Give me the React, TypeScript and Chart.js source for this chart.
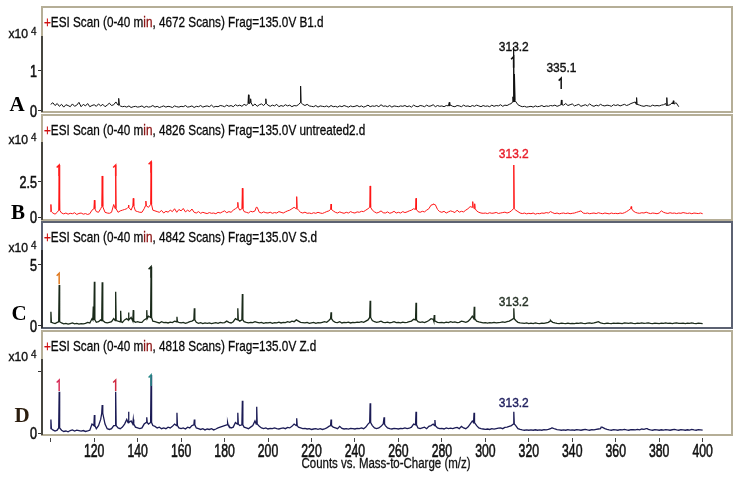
import React, { useEffect, useRef } from 'react';
import { Chart, registerables } from 'chart.js';
Chart.register(...registerables);

const SANS = "'Liberation Sans', Arial, sans-serif";
const SERIF = "'Liberation Serif', 'DejaVu Serif', serif";

const X_MIN = 96;
const X_MAX = 413.5;
const X_TICKS = [100, 120, 140, 160, 180, 200, 220, 240, 260, 280, 300, 320, 340, 360, 380, 400];
const X_TICK_LABELS = ['', '120', '140', '160', '180', '200', '220', '240', '260', '280', '300', '320', '340', '360', '380', '400'];
const X_TITLE = 'Counts vs. Mass-to-Charge (m/z)';

// ---- Panel A (B1.d) : intensities x10^4 at integer m/z from 100
const A_START = 100;
const A_BASE = [
  .16, .2, .13, .18, .11, .16, .09, .15, .13, .1, .17, .11, .14, .21, .1, .16, .12, .18, .1, .13,
  .15, .11, .17, .12, .16, .1, .14, .19, .13, .15, .22, .14, .12, .1, .11, .09, .12, .08, .1, .11,
  .09, .1, .12, .08, .11, .09, .1, .13, .09, .11, .08, .1, .12, .09, .11, .1, .08, .12, .1, .09,
  .11, .1, .13, .09, .1, .12, .08, .11, .1, .13, .09, .11, .12, .1, .14, .09, .11, .1, .13, .12,
  .1, .14, .11, .13, .1, .15, .12, .14, .11, .16, .13, .18, .2, .12, .17, .11, .15, .17, .13, .18,
  .14, .11, .14, .12, .16, .1, .13, .11, .15, .12, .14, .1, .13, .12, .15, .2, .16, .13, .16, .12,
  .11, .1, .13, .09, .12, .11, .1, .12, .09, .13, .1, .11, .09, .12, .1, .13, .11, .09, .12, .1,
  .11, .13, .1, .12, .09, .11, .14, .1, .12, .11, .13, .1, .15, .11, .12, .1, .13, .09, .12, .11,
  .1, .12, .11, .13, .1, .12, .09, .14, .11, .1, .13, .12, .1, .14, .11, .12, .15, .1, .13, .11,
  .12, .1, .13, .12, .14, .11, .1, .13, .12, .1, .14, .11, .12, .1, .13, .11, .14, .12, .1, .13,
  .11, .12, .1, .14, .11, .13, .12, .15, .11, .14, .13, .16, .18, .22, .25, .15, .12, .1, .11, .09,
  .1, .11, .09, .12, .1, .11, .13, .1, .12, .11, .13, .12, .14, .11, .13, .15, .14, .18, .13, .15,
  .17, .12, .14, .16, .11, .13, .15, .12, .17, .13, .11, .14, .12, .16, .13, .12, .14, .13, .11, .15,
  .13, .15, .12, .14, .16, .13, .15, .18, .2, .22, .16, .14, .12, .11, .13, .12, .11, .14, .12, .13,
  .12, .14, .15, .18, .13, .15, .2, .17, .19, .1,
];
const A_PEAKS = [
  [131.4, 0.31], [191, 0.4], [192, 0.3], [199, 0.3], [215, 0.62], [283.4, 0.21],
  [312.7, 0.35], [313.1, 1.6], [313.5, 0.92], [335, 0.27], [369.6, 0.33], [383.5, 0.33], [386.5, 0.25], [387.7, 0.2],
];

// ---- Panel B (untreated2.d)
const B_START = 100;
const B_BASE = [
  .4, .3, .22, .35, .5, .3, .24, .3, .22, .28, .25, .32, .2, .27, .3, .22, .26, .2, .25, .5,
  .6, .4, .35, .6, .75, .35, .3, .28, .35, .9, .6, .35, .45, .5, .55, .6, .7, .5, .8, .45,
  .4, .35, .35, .6, .8, .7, .9, .5, .45, .4, .35, .48, .3, .42, .36, .5, .4, .6, .35, .55,
  .45, .62, .38, .5, .4, .58, .35, .3, .4, .28, .35, .3, .26, .33, .28, .3, .25, .35, .3, .38,
  .45, .32, .4, .35, .5, .6, .7, .5, .6, .4, .35, .3, .42, .38, .45, .7, .35, .3, .38, .32,
  .3, .36, .28, .33, .3, .4, .35, .3, .38, .45, .5, .6, .7, .6, .5, .35, .3, .36, .28, .3,
  .26, .32, .28, .35, .3, .27, .33, .4, .45, .55, .45, .35, .3, .38, .32, .28, .35, .3, .4, .33,
  .3, .38, .35, .42, .4, .5, .6, .7, .5, .38, .3, .35, .45, .32, .3, .38, .28, .33, .42, .3,
  .35, .3, .4, .33, .38, .45, .5, .6, .55, .4, .35, .42, .38, .5, .6, .85, .9, .88, .55, .4,
  .35, .42, .3, .38, .45, .4, .33, .5, .36, .42, .38, .5, .6, .75, .7, .6, .45, .35, .3, .28,
  .3, .26, .32, .28, .3, .34, .27, .3, .33, .36, .3, .35, .45, .6, .5, .4, .3, .26, .3, .24,
  .28, .25, .3, .22, .27, .25, .3, .28, .33, .3, .4, .32, .26, .3, .24, .28, .3, .26, .3, .25,
  .28, .3, .35, .4, .45, .3, .27, .3, .25, .28, .3, .26, .32, .28, .25, .3, .27, .24, .3, .26,
  .28, .25, .3, .27, .32, .4, .5, .6, .45, .35, .3, .28, .32, .3, .36, .3, .26, .3, .28, .25,
  .3, .45, .35, .3, .27, .32, .28, .3, .26, .3, .28, .33, .3, .27, .3, .25, .3, .28, .26, .3,
  .25,
];
const B_PEAKS = [
  [100.1, 0.9], [103.9, 3.67], [120.1, 1.2], [123.7, 2.9], [129.9, 3.67], [135.8, 0.86], [138, 1.33],
  [143.8, 1.14], [146.2, 3.9], [186.1, 1.05], [188.2, 2.04], [194.8, 0.7], [213.2, 1.45], [229, 0.93],
  [247, 2.2], [268.1, 1.33], [276.2, 0.95], [294.2, 1.1], [295.1, 0.95], [313.1, 3.67], [367.1, 0.75],
];

// ---- Panel C (S.d)
const C_START = 100;
const C_BASE = [
  .3, .25, .2, .3, .35, .25, .18, .22, .15, .2, .25, .18, .22, .15, .2, .17, .22, .3, .25, .6,
  .5, .3, .35, .5, .45, .3, .25, .3, .35, .6, .45, .4, .35, .3, .5, .6, .5, .7, .4, .3,
  .35, .3, .3, .5, .6, .8, .7, .4, .35, .3, .25, .35, .28, .3, .25, .32, .28, .4, .35, .3,
  .25, .3, .22, .28, .35, .4, .5, .3, .22, .27, .2, .25, .22, .26, .2, .24, .28, .22, .3, .25,
  .28, .4, .3, .25, .35, .6, .5, .4, .5, .35, .3, .26, .3, .28, .35, .3, .25, .3, .22, .27,
  .25, .3, .22, .28, .26, .32, .25, .3, .28, .35, .3, .4, .35, .5, .4, .3, .28, .25, .3, .22,
  .26, .3, .22, .28, .25, .3, .35, .3, .45, .6, .4, .3, .28, .35, .25, .3, .27, .32, .25, .3,
  .28, .32, .3, .35, .3, .4, .5, .7, .45, .35, .3, .33, .4, .3, .28, .32, .26, .3, .35, .28,
  .3, .26, .32, .28, .3, .35, .4, .55, .5, .35, .3, .33, .28, .35, .45, .6, .55, .4, .3, .28,
  .3, .26, .32, .28, .35, .3, .33, .28, .3, .4, .35, .3, .38, .55, .8, .6, .4, .33, .3, .26,
  .28, .24, .27, .25, .3, .26, .28, .3, .33, .3, .35, .4, .5, .6, .45, .3, .26, .24, .22, .25,
  .2, .23, .2, .25, .22, .2, .24, .22, .26, .3, .4, .3, .25, .22, .2, .24, .21, .2, .23, .2,
  .22, .2, .24, .21, .25, .22, .2, .23, .26, .22, .25, .3, .35, .26, .22, .2, .24, .21, .2, .23,
  .21, .24, .22, .2, .25, .23, .21, .26, .22, .2, .24, .22, .25, .21, .23, .26, .22, .2, .24, .22,
  .2, .23, .21, .25, .22, .24, .2, .23, .26, .22, .21, .24, .2, .23, .22, .25, .21, .2, .23, .22,
  .2,
];
const C_PEAKS = [
  [100.1, 1.17], [103.9, 3.36], [119.6, 1.6], [120.1, 3.63], [123.7, 3.58], [129.9, 2.8], [132.2, 1.25],
  [135.8, 1.1], [138, 1.3], [144.2, 1.3], [146.2, 4.86], [158.1, 0.76], [166.1, 1.45], [186.1, 1.45],
  [188.2, 2.62], [229, 1.12], [247, 2.07], [268.1, 1.91], [276.5, 0.9], [294.9, 1.58], [313.1, 1.45], [330, 0.45],
];

// ---- Panel D (Z.d)
const D_START = 100;
const D_BASE = [
  .3, .22, .15, .2, .35, .2, .12, .15, .1, .18, .22, .15, .2, .17, .14, .18, .12, .15, .2, .6,
  .5, .3, .5, .9, 1.3, .6, .3, .25, .3, .5, .5, .35, .3, .4, .6, .9, .7, .8, .6, .4,
  .35, .3, .35, .6, .7, .6, .7, .5, .45, .35, .4, .3, .35, .3, .4, .35, .45, .6, .5, .35,
  .3, .35, .28, .4, .35, .5, .55, .35, .3, .25, .3, .22, .28, .25, .3, .22, .28, .35, .4, .45,
  .5, .55, .45, .35, .4, .7, .6, .5, .55, .4, .35, .3, .4, .5, .8, .6, .45, .35, .3, .35,
  .28, .32, .3, .35, .3, .28, .32, .35, .3, .38, .35, .45, .6, .5, .4, .35, .3, .32, .28, .3,
  .25, .28, .3, .26, .3, .25, .28, .35, .45, .5, .4, .35, .3, .45, .32, .28, .3, .27, .32, .3,
  .28, .32, .3, .35, .3, .4, .6, .7, .5, .35, .3, .35, .45, .6, .5, .35, .3, .28, .32, .3,
  .28, .32, .3, .35, .3, .33, .4, .6, .55, .35, .3, .35, .4, .3, .45, .5, .6, .5, .35, .3,
  .32, .28, .35, .3, .33, .3, .35, .38, .3, .45, .35, .3, .4, .6, .8, .7, .5, .35, .3, .28,
  .25, .28, .25, .3, .27, .3, .33, .35, .3, .38, .4, .45, .5, .6, .5, .3, .25, .22, .2, .22,
  .2, .22, .2, .23, .2, .22, .2, .24, .22, .25, .3, .35, .28, .24, .22, .2, .22, .2, .24, .21,
  .22, .2, .24, .22, .2, .23, .25, .22, .2, .24, .22, .25, .28, .3, .4, .3, .25, .22, .2, .24,
  .22, .2, .24, .22, .25, .22, .2, .24, .23, .22, .25, .22, .28, .26, .3, .25, .22, .2, .24, .22,
  .2, .23, .21, .24, .22, .2, .23, .25, .22, .2, .24, .22, .2, .23, .21, .25, .22, .2, .24, .22,
  .2,
];
const D_PEAKS = [
  [100.1, 0.9], [103.9, 2.7], [120.1, 1.19], [123.7, 1.84], [129.9, 2.7], [135.8, 1.4], [138, 0.9],
  [144.2, 1.04], [146.2, 3.79], [158.1, 1.34], [166.1, 0.9], [181.4, 0.7], [186.1, 1.34], [188.2, 2.12],
  [194.8, 1.73], [213.2, 0.97], [229, 0.9], [247, 1.95], [253.4, 1.04], [268.1, 1.4], [276.8, 0.86],
  [294.8, 1.34], [313.1, 1.4], [330.8, 0.35], [353.5, 0.4], [374.3, 0.3],
];

const TITLES = [
  '+ESI Scan (0-40 min, 4672 Scans) Frag=135.0V B1.d',
  '+ESI Scan (0-40 min, 4826 Scans) Frag=135.0V untreated2.d',
  '+ESI Scan (0-40 min, 4842 Scans) Frag=135.0V S.d',
  '+ESI Scan (0-40 min, 4818 Scans) Frag=135.0V Z.d',
];
const LETTERS = ['A', 'B', 'C', 'D'];
const Y_TICKS = [[0, 1], [0, 2.5], [0, 5], [0, 4]];
const Y_TICK_LABELS = [['0', '1'], ['0', '2.5'], ['0', '5'], ['0', '']];
const AXIS_TOPS = [1.88, 5.29, 6.23, 4.82];
const PEAK_LABELS: [number, string, number][][] = [
  [[313.1, '313.2', 1.51], [335.0, '335.1', 0.98]],
  [[313.1, '313.2', 4.16]],
  [[313.1, '313.2', 1.64]],
  [[313.1, '313.2', 1.71]],
];
const MARKERS: [number, number, string][][] = [
  [[313.0, 1.36, '#111111'], [334.9, 0.82, '#111111']],
  [[103.9, 3.67, '#ff2020'], [129.9, 3.67, '#ff2020'], [146.2, 3.9, '#ff2020']],
  [[103.9, 4.32, '#e07a20'], [146.2, 4.86, '#1a2a1a']],
  [[103.9, 3.46, '#d8305a'], [129.9, 3.46, '#d02a40'], [146.2, 3.79, '#2a8a8a']],
];

type PanelGeom = {
  boxTop: number; boxBottom: number; yMin: number; yMax: number; lw: number;
  color: string; labelColor: string; border: string; letterX: number; letterDy: number; letterColor: string;
};
const GEOM: PanelGeom[] = [
  { boxTop: 7, boxBottom: 112, yMin: -0.033, yMax: 2.61, lw: 1, color: '#111111', labelColor: '#111111', border: '#b5ae97', letterX: 17, letterDy: -7, letterColor: '#000' },
  { boxTop: 115, boxBottom: 220, yMin: -0.19, yMax: 7.18, lw: 1, color: '#ff1616', labelColor: '#e81c28', border: '#b5ae97', letterX: 18, letterDy: -5, letterColor: '#000' },
  { boxTop: 222, boxBottom: 328, yMin: -0.164, yMax: 8.52, lw: 1.3, color: '#1a2a1a', labelColor: '#263226', border: '#5c6272', letterX: 19, letterDy: -13, letterColor: '#000' },
  { boxTop: 331, boxBottom: 435, yMin: -0.11, yMax: 6.64, lw: 1.3, color: '#1b1b55', labelColor: '#222260', border: '#b5ae97', letterX: 22, letterDy: -18, letterColor: '#2b1d0e' },
];

const SERIES = [
  { start: A_START, base: A_BASE, peaks: A_PEAKS },
  { start: B_START, base: B_BASE, peaks: B_PEAKS },
  { start: C_START, base: C_BASE, peaks: C_PEAKS },
  { start: D_START, base: D_BASE, peaks: D_PEAKS },
];

function buildPoints(start: number, base: number[], peaks: number[][]) {
  const W = 0.22;
  const pts: { x: number; y: number }[] = [];
  base.forEach((v, i) => {
    const x = start + i;
    if (!peaks.some(([m]) => Math.abs(x - m) < W)) pts.push({ x, y: v });
  });
  for (const [m, h] of peaks) {
    const idx = Math.min(base.length - 1, Math.max(0, Math.round(m) - start));
    const b = base[idx];
    pts.push({ x: m - W, y: b }, { x: m, y: h }, { x: m + W, y: b });
  }
  pts.sort((a, b) => a.x - b.x);
  return pts;
}

// draws horizontally condensed text (emulates a narrow face)
function drawText(ctx: CanvasRenderingContext2D, s: string, x: number, y: number, size: number, sx: number,
  color: string, align: CanvasTextAlign = 'left', baseline: CanvasTextBaseline = 'alphabetic', family = SANS, weight = 'normal', heavy = 0) {
  ctx.save();
  ctx.font = `${weight} ${size}px ${family}`;
  ctx.textAlign = align;
  ctx.textBaseline = baseline;
  ctx.fillStyle = color;
  ctx.translate(x, y);
  ctx.scale(sx, 1);
  ctx.fillText(s, 0, 0);
  if (heavy > 0) {
    ctx.strokeStyle = color;
    ctx.lineWidth = heavy;
    ctx.strokeText(s, 0, 0);
  }
  const w = ctx.measureText(s).width * sx;
  ctx.restore();
  return w;
}

function decorPlugin(i: number) {
  const g = GEOM[i];
  return {
    id: 'decor' + i,
    beforeDatasetsDraw(chart: any) {
      const { ctx, chartArea: ca } = chart;
      ctx.save();
      ctx.strokeStyle = g.border;
      ctx.lineWidth = 2;
      ctx.strokeRect(ca.left, ca.top, ca.right - ca.left, ca.bottom - ca.top);
      ctx.restore();
    },
    afterDraw(chart: any) {
      const { ctx, chartArea: ca, scales } = chart;
      const xs = scales.x, ys = scales.y;
      ctx.save();
      ctx.strokeStyle = '#222';
      ctx.lineWidth = 1.5;
      ctx.beginPath();
      ctx.moveTo(ca.left, ys.getPixelForValue(AXIS_TOPS[i]));
      ctx.lineTo(ca.left, ca.bottom);
      ctx.stroke();
      ctx.restore();
      // title
      const t = TITLES[i];
      const ty = ca.top + 20;
      let tx = ca.left + 2;
      const k = t.indexOf('min');
      const segs: [string, string][] = [
        [t.slice(0, 1), '#d01010'],
        [t.slice(1, k + 1), '#0a0a0a'],
        ['in', '#8a1010'],
        [t.slice(k + 3), '#0a0a0a'],
      ];
      for (const [s, c] of segs) tx += drawText(ctx, s, tx, ty, 14.3, 0.82, c, 'left', 'alphabetic', SANS, 'normal', 0.3);
      // y tick labels
      Y_TICKS[i].forEach((v, j) => {
        const lab = Y_TICK_LABELS[i][j];
        if (lab) drawText(ctx, lab, 37, ys.getPixelForValue(v) + 6, 17, 0.74, '#111', 'right', 'alphabetic', SANS, 'normal', 0.6);
      });
      // x10 4
      const at = ys.getPixelForValue(AXIS_TOPS[i]);
      drawText(ctx, 'x10', 28, at + 2, 13.5, 0.9, '#111', 'right', 'alphabetic', SANS, 'normal', 0.4);
      drawText(ctx, '4', 31, at - 1, 10.5, 0.95, '#111', 'left', 'alphabetic', SANS, 'normal', 0.3);
      // panel letter
      drawText(ctx, LETTERS[i], g.letterX, ys.getPixelForValue(0) + g.letterDy + 7, 21, 1, g.letterColor, 'center', 'alphabetic', SERIF, 'bold');
      // markers
      ctx.save();
      for (const [m, v, c] of MARKERS[i]) {
        const px = xs.getPixelForValue(m);
        const py = ys.getPixelForValue(v);
        ctx.strokeStyle = c;
        ctx.lineWidth = 1.5;
        ctx.beginPath();
        ctx.moveTo(px - 2.5, py + 2.5);
        ctx.lineTo(px, py);
        ctx.lineTo(px, py + 11);
        ctx.stroke();
      }
      ctx.restore();
      // peak labels
      for (const [m, s, v] of PEAK_LABELS[i]) {
        drawText(ctx, s, xs.getPixelForValue(m), ys.getPixelForValue(v), 13, 0.92, g.labelColor, 'center', 'alphabetic', SANS, 'normal', 0.4);
      }
      // x axis labels and title
      if (i === 3) {
        X_TICKS.forEach((v, j) => {
          const lab = X_TICK_LABELS[j];
          if (lab) drawText(ctx, lab, xs.getPixelForValue(v), ca.bottom + 21.5, 18, 0.68, '#111', 'center', 'alphabetic', SANS, 'normal', 0.6);
        });
        drawText(ctx, X_TITLE, 386, ca.bottom + 33, 14, 0.82, '#111', 'center', 'alphabetic', SANS, 'normal', 0.3);
      }
    },
  };
}

function Panel({ i }: { i: number }) {
  const ref = useRef<HTMLCanvasElement | null>(null);
  const g = GEOM[i];
  const last = i === 3;
  const canvasTop = Math.max(0, g.boxTop - 12);
  const padTop = g.boxTop - canvasTop;
  const canvasBottom = last ? 477 : g.boxBottom + 12;
  const height = canvasBottom - canvasTop;
  const xAxisH = last ? canvasBottom - g.boxBottom : 0;
  useEffect(() => {
    const s = SERIES[i];
    const pts = buildPoints(s.start, s.base, s.peaks);
    const chart = new Chart(ref.current!, {
      type: 'line',
      data: {
        datasets: [{ data: pts, borderColor: g.color, borderWidth: g.lw, pointRadius: 0, tension: 0, fill: false }],
      },
      options: {
        responsive: false,
        animation: false,
        events: [],
        layout: { padding: { left: 0, right: 10, top: padTop, bottom: last ? 0 : 12 } },
        plugins: { legend: { display: false }, tooltip: { enabled: false } },
        scales: {
          x: {
            type: 'linear',
            min: X_MIN,
            max: X_MAX,
            display: last,
            afterBuildTicks: (sc: any) => { sc.ticks = X_TICKS.map((v) => ({ value: v })); },
            afterFit: (sc: any) => { sc.height = xAxisH; },
            grid: { drawOnChartArea: false, drawTicks: true, tickLength: 7, color: '#444', tickBorderDash: [0, 3, 4], lineWidth: 1 },
            border: { display: false },
            ticks: { display: false },
          },
          y: {
            type: 'linear',
            min: g.yMin,
            max: g.yMax,
            afterBuildTicks: (sc: any) => { sc.ticks = Y_TICKS[i].map((v) => ({ value: v })); },
            afterFit: (sc: any) => { sc.width = 42; },
            grid: { drawOnChartArea: false, drawTicks: true, tickLength: 4, color: '#333', lineWidth: 1 },
            border: { display: false },
            ticks: { display: false },
          },
        },
      } as any,
      plugins: [decorPlugin(i)],
    });
    return () => chart.destroy();
  }, []);
  return (
    <canvas
      ref={ref}
      width={742}
      height={height}
      style={{ position: 'absolute', left: 0, top: canvasTop, width: 742, height }}
    />
  );
}

export default function App() {
  return (
    <div style={{ position: 'absolute', left: 0, top: 0, width: 742, height: 477, background: '#ffffff', overflow: 'hidden' }}>
      {[0, 1, 2, 3].map((i) => <Panel key={i} i={i} />)}
    </div>
  );
}
